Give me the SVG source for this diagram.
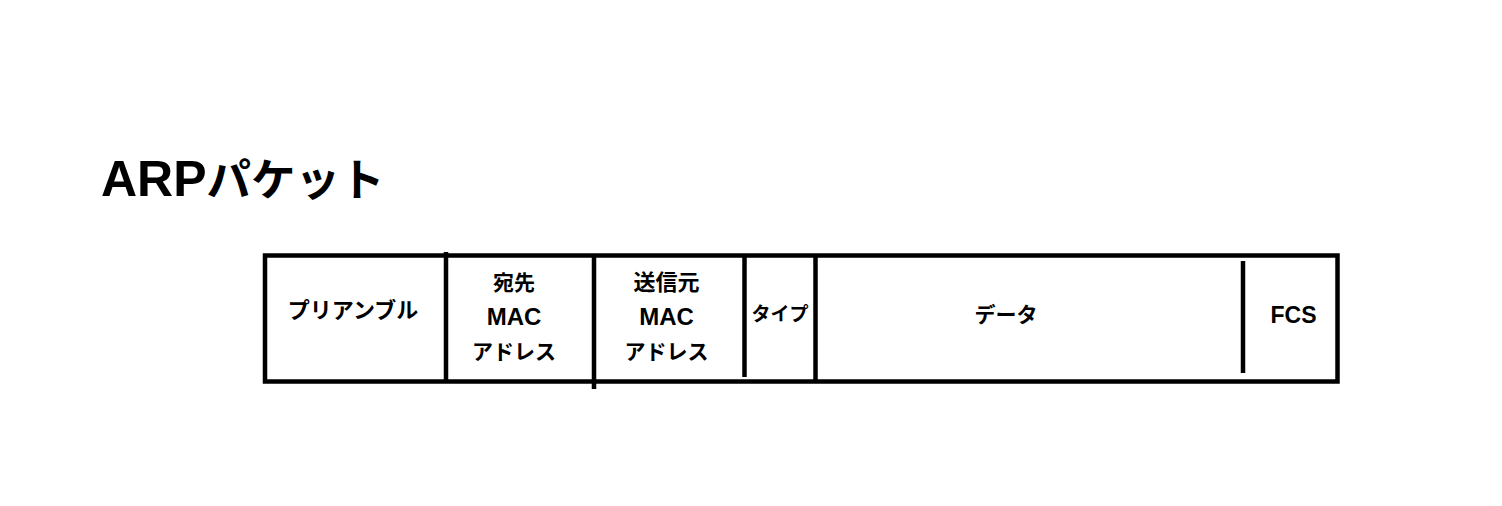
<svg xmlns="http://www.w3.org/2000/svg" width="1502" height="506" viewBox="0 0 1502 506">
<style>
.t{font-family:"Liberation Sans","Noto Sans CJK JP",sans-serif;font-weight:bold;fill:#000;text-anchor:middle;font-size:22px}
.ln{stroke:#000;stroke-width:4.5;fill:none}
</style>
<rect width="1502" height="506" fill="#fff"/>
<g id="title">
<text x="101" y="196" style="font-family:'Liberation Sans','Noto Sans CJK JP',sans-serif;font-weight:bold;font-size:50px">ARP<tspan style="font-size:44.5px">パケット</tspan></text>
</g>
<g id="frame">
<rect class="ln" x="265" y="255.5" width="1072.5" height="126"/>
</g>
<g id="connectors">
<line class="ln" x1="446" y1="252" x2="446" y2="381"/>
<line class="ln" x1="594" y1="257" x2="594" y2="389"/>
<line class="ln" x1="744.5" y1="257" x2="744.5" y2="377"/>
<line class="ln" x1="815.5" y1="257" x2="815.5" y2="381"/>
<line class="ln" x1="1243" y1="261" x2="1243" y2="373"/>
</g>
<g id="preamble"><text class="t" x="353" y="318">プリアンブル</text></g>
<g id="dst">
<text class="t" x="514" y="290" style="font-size:21px">宛先</text>
<text class="t" x="514" y="325" style="font-size:24px">MAC</text>
<text class="t" x="514" y="359" style="font-size:21px">アドレス</text>
</g>
<g id="src">
<text class="t" x="666.5" y="290" style="font-size:22px">送信元</text>
<text class="t" x="666.5" y="325" style="font-size:24px">MAC</text>
<text class="t" x="666.5" y="359" style="font-size:21px">アドレス</text>
</g>
<g id="type"><text class="t" x="780" y="321" style="font-size:19px">タイプ</text></g>
<g id="data"><text class="t" x="1006" y="322" style="font-size:21px">データ</text></g>
<g id="fcs"><text class="t" x="1293.5" y="323" style="font-size:23px">FCS</text></g>
</svg>
